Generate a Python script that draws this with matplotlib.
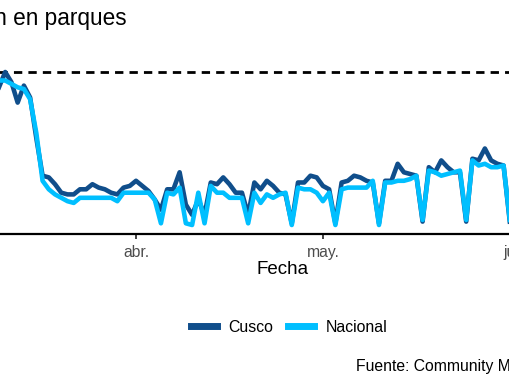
import datetime as dt
import matplotlib
matplotlib.use("Agg")
import matplotlib.pyplot as plt
from matplotlib.lines import Line2D

plt.rcParams['font.family'] = ['Liberation Sans', 'DejaVu Sans']

# daily values, 9 mar 2020 - 31 may 2020 (% change vs. baseline)
start = dt.date(2020, 3, 9)
cusco = [-10, -9, 0, -6, -18, -8, -15, -39, -61, -62, -66, -71, -72, -72, -69, -69,
         -66, -68, -69, -71, -72, -68, -67,
         -64, -67, -70, -75, -81, -69, -69, -59, -78, -84, -75, -84, -65, -66, -62,
         -66, -71, -71, -84, -65, -69, -64, -67, -71, -72, -89, -65, -65, -61, -62,
         -67, -69, -89, -65, -64, -61, -62, -64, -65, -89, -64, -64, -54, -59, -60,
         -61, -88, -56, -59, -52, -56, -59, -59, -88, -51, -52, -45, -52, -54, -55, -88]
nacional = [-5, -5, -5, -7, -9, -10, -16, -36, -64, -69, -72, -74, -76, -77, -74, -74,
            -74, -74, -74, -74, -76, -71, -71,
            -71, -71, -71, -75, -89, -71, -72, -68, -89, -90, -71, -89, -67, -71, -71,
            -74, -74, -74, -89, -71, -77, -72, -74, -72, -71, -90, -68, -69, -69, -71,
            -76, -71, -90, -69, -68, -68, -68, -68, -64, -90, -65, -65, -64, -64, -63,
            -61, -87, -58, -59, -61, -60, -59, -58, -87, -52, -55, -54, -56, -56, -55, -87]
fechas = [start + dt.timedelta(days=i) for i in range(len(cusco))]

tick_dates = [dt.date(2020, 4, 1), dt.date(2020, 5, 1), dt.date(2020, 6, 1)]
tick_labels = ['abr.', 'may.', 'jun.']

W, H = 510, 382
fig = plt.figure(figsize=(W / 100, H / 100), dpi=100)

# the picture is a crop: axes run past the left and right edges
x0, xw = -57.1, 629.2
y_top, y_bot = 55, 233.5
ax = fig.add_axes([x0 / W, 1 - y_bot / H, xw / W, (y_bot - y_top) / H])

ax.plot(fechas, cusco, color='#104E8B', lw=3.3, solid_joinstyle='round', zorder=3)
ax.plot(fechas, nacional, color='#00BFFF', lw=3.3, solid_joinstyle='round', zorder=4)
ax.axhline(0, color='black', lw=2, ls=(0, (3, 2.2)), zorder=2)

ax.set_xlim(dt.date(2020, 3, 1), dt.date(2020, 6, 10))
ax.set_ylim(-95, 10)

for s in ['top', 'right', 'left']:
    ax.spines[s].set_visible(False)
ax.spines['bottom'].set_linewidth(1.6)
ax.set_yticks([])
ax.set_xticks(tick_dates)
ax.set_xticklabels(tick_labels)
ax.tick_params(axis='x', length=3.5, width=1.3, color='#333333',
               labelsize=11.3, labelcolor='#4D4D4D', pad=5)

ax.set_xlabel('Fecha', fontsize=13.5)
ax.xaxis.set_label_coords((283 - x0) / xw, -(270 - y_bot) / (y_bot - y_top))
ax.xaxis.label.set_va('center')

fig.text(127 / W, 1 - 25 / H, 'Variación en parques', ha='right', va='baseline',
         fontsize=16.3)

handles = [Line2D([], [], color='#104E8B', lw=5),
           Line2D([], [], color='#00BFFF', lw=5)]
fig.legend(handles, ['Cusco', 'Nacional'], loc='center', ncol=2, frameon=False,
           bbox_to_anchor=(289 / W, 1 - 327 / H), fontsize=11.4,
           handlelength=1.65, handletextpad=0.75, columnspacing=0.9)

fig.text(356 / W, 1 - 367 / H, 'Fuente: Community Mobility Reports - Google',
         ha='left', va='center', fontsize=11.3)

fig.savefig('out.png', dpi=100)
